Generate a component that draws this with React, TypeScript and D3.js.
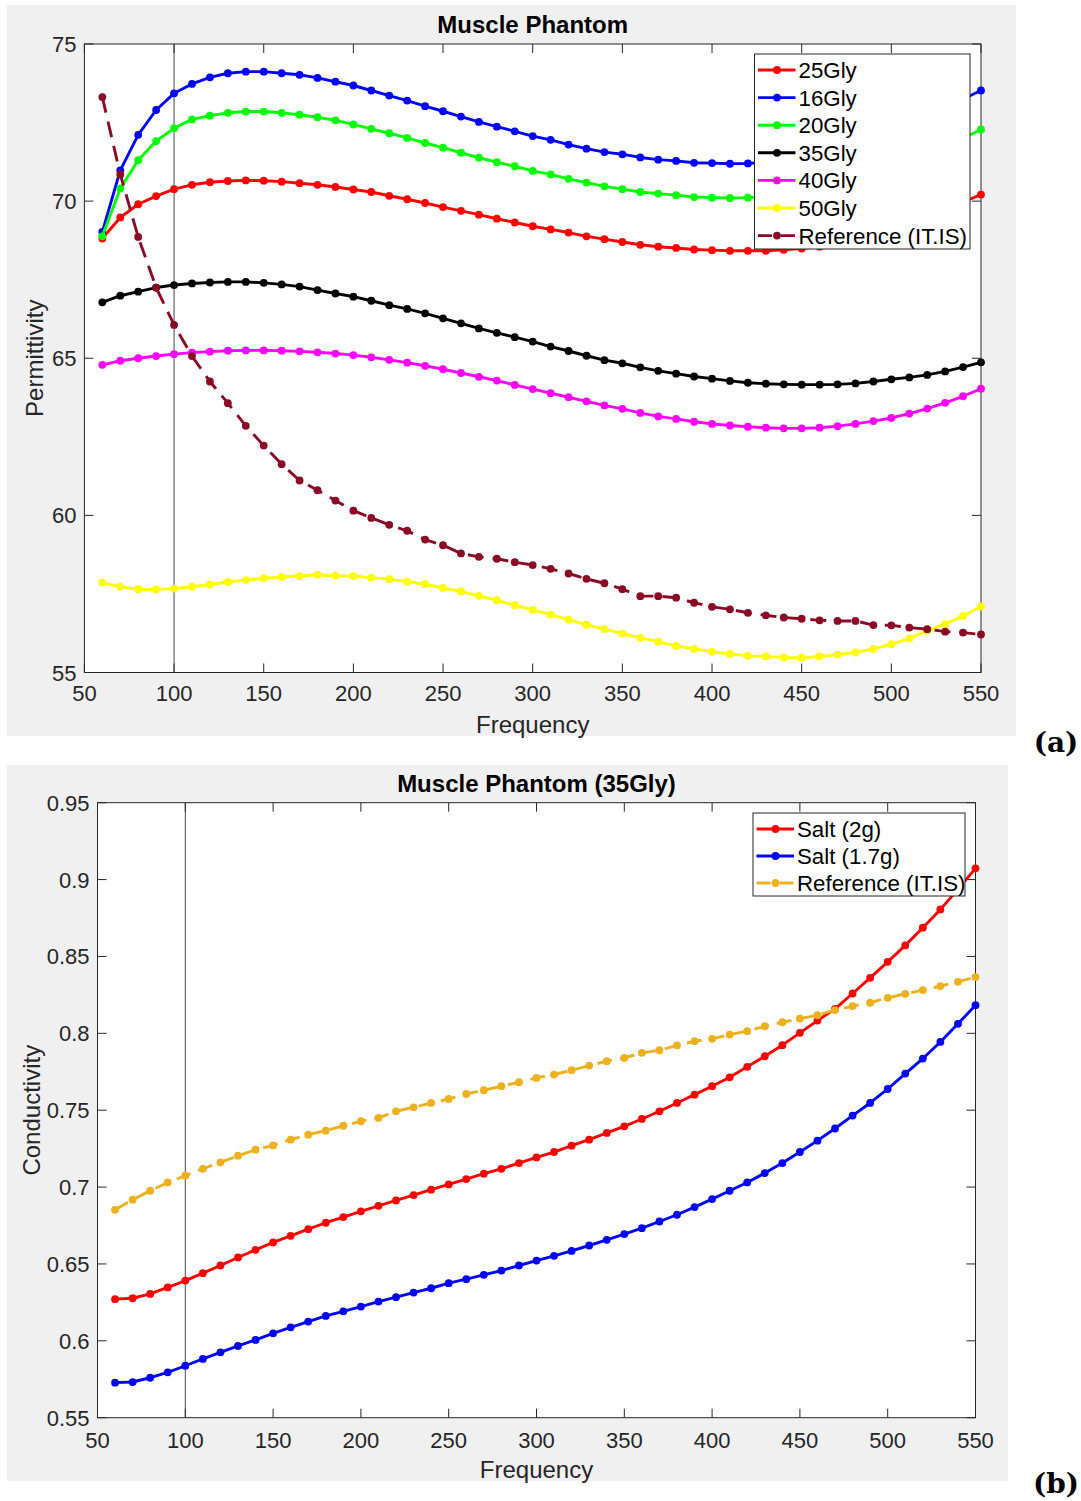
import React from "react";
import * as d3 from "d3";

// ---------- DATA ----------
const FREQ = [60, 70, 80, 90, 100, 110, 120, 130, 140, 150, 160, 170, 180, 190, 200, 210, 220, 230, 240, 250, 260, 270, 280, 290, 300, 310, 320, 330, 340, 350, 360, 370, 380, 390, 400, 410, 420, 430, 440, 450, 460, 470, 480, 490, 500, 510, 520, 530, 540, 550];

const PERM_25GLY = [68.81, 69.48, 69.90, 70.16, 70.38, 70.52, 70.60, 70.64, 70.66, 70.65, 70.62, 70.57, 70.52, 70.45, 70.37, 70.29, 70.17, 70.06, 69.94, 69.81, 69.69, 69.57, 69.44, 69.32, 69.20, 69.10, 69.00, 68.88, 68.79, 68.70, 68.61, 68.55, 68.51, 68.46, 68.44, 68.42, 68.42, 68.42, 68.45, 68.49, 68.55, 68.64, 68.76, 68.90, 69.07, 69.26, 69.48, 69.72, 69.97, 70.21];
const PERM_16GLY = [69.02, 70.98, 72.11, 72.90, 73.43, 73.73, 73.94, 74.07, 74.12, 74.12, 74.07, 74.02, 73.92, 73.80, 73.68, 73.52, 73.36, 73.20, 73.02, 72.86, 72.69, 72.52, 72.37, 72.22, 72.07, 71.95, 71.80, 71.67, 71.56, 71.49, 71.39, 71.32, 71.28, 71.22, 71.21, 71.19, 71.20, 71.23, 71.30, 71.40, 71.53, 71.68, 71.86, 72.05, 72.25, 72.47, 72.71, 72.97, 73.25, 73.52];
const PERM_20GLY = [68.88, 70.40, 71.30, 71.91, 72.32, 72.60, 72.72, 72.81, 72.85, 72.85, 72.81, 72.75, 72.67, 72.57, 72.44, 72.30, 72.16, 72.01, 71.85, 71.70, 71.54, 71.38, 71.24, 71.11, 70.96, 70.85, 70.71, 70.59, 70.47, 70.38, 70.29, 70.24, 70.19, 70.13, 70.11, 70.10, 70.11, 70.14, 70.20, 70.30, 70.41, 70.55, 70.70, 70.88, 71.07, 71.28, 71.50, 71.74, 72.00, 72.28];
const PERM_35GLY = [66.78, 66.99, 67.12, 67.25, 67.33, 67.38, 67.41, 67.43, 67.43, 67.40, 67.35, 67.28, 67.17, 67.06, 66.96, 66.83, 66.69, 66.57, 66.43, 66.27, 66.11, 65.95, 65.81, 65.67, 65.53, 65.37, 65.23, 65.08, 64.94, 64.84, 64.71, 64.60, 64.51, 64.42, 64.35, 64.28, 64.22, 64.19, 64.17, 64.16, 64.16, 64.17, 64.20, 64.26, 64.33, 64.39, 64.47, 64.58, 64.72, 64.87];
const PERM_40GLY = [64.79, 64.92, 65.00, 65.07, 65.13, 65.18, 65.21, 65.24, 65.25, 65.25, 65.24, 65.22, 65.19, 65.15, 65.10, 65.03, 64.95, 64.86, 64.76, 64.65, 64.53, 64.41, 64.29, 64.15, 64.02, 63.89, 63.76, 63.63, 63.50, 63.39, 63.26, 63.15, 63.07, 62.98, 62.91, 62.86, 62.82, 62.79, 62.77, 62.77, 62.79, 62.84, 62.91, 63.00, 63.10, 63.24, 63.40, 63.58, 63.79, 64.03];
const PERM_50GLY = [57.86, 57.73, 57.65, 57.64, 57.67, 57.73, 57.80, 57.88, 57.94, 58.00, 58.04, 58.07, 58.11, 58.08, 58.07, 58.02, 57.97, 57.89, 57.81, 57.69, 57.58, 57.44, 57.30, 57.14, 56.99, 56.84, 56.68, 56.52, 56.38, 56.24, 56.10, 55.98, 55.85, 55.75, 55.66, 55.59, 55.53, 55.51, 55.48, 55.47, 55.51, 55.57, 55.64, 55.75, 55.90, 56.08, 56.33, 56.54, 56.80, 57.10];
const PERM_REF = [73.31, 70.85, 68.86, 67.25, 66.06, 65.07, 64.26, 63.57, 62.85, 62.22, 61.63, 61.11, 60.80, 60.47, 60.15, 59.92, 59.70, 59.51, 59.23, 59.05, 58.79, 58.68, 58.62, 58.51, 58.42, 58.30, 58.15, 57.98, 57.84, 57.65, 57.43, 57.43, 57.38, 57.22, 57.09, 57.01, 56.90, 56.82, 56.75, 56.71, 56.66, 56.64, 56.64, 56.51, 56.50, 56.43, 56.38, 56.30, 56.27, 56.21];

const COND_SALT_2G = [0.6271, 0.6277, 0.6305, 0.6347, 0.6392, 0.6440, 0.6490, 0.6542, 0.6592, 0.6640, 0.6683, 0.6726, 0.6768, 0.6805, 0.6842, 0.6878, 0.6913, 0.6948, 0.6983, 0.7017, 0.7052, 0.7087, 0.7119, 0.7156, 0.7193, 0.7228, 0.7269, 0.7308, 0.7352, 0.7395, 0.7443, 0.7493, 0.7547, 0.7601, 0.7656, 0.7714, 0.7782, 0.7851, 0.7923, 0.8003, 0.8083, 0.8159, 0.8259, 0.8361, 0.8465, 0.8572, 0.8687, 0.8806, 0.8936, 0.9073];
const COND_SALT_17G = [0.5728, 0.5732, 0.5760, 0.5795, 0.5838, 0.5882, 0.5925, 0.5967, 0.6006, 0.6049, 0.6088, 0.6125, 0.6162, 0.6192, 0.6223, 0.6255, 0.6284, 0.6314, 0.6342, 0.6375, 0.6401, 0.6429, 0.6457, 0.6490, 0.6522, 0.6553, 0.6585, 0.6620, 0.6657, 0.6694, 0.6733, 0.6776, 0.6820, 0.6870, 0.6922, 0.6976, 0.7030, 0.7091, 0.7156, 0.7228, 0.7302, 0.7381, 0.7465, 0.7547, 0.7638, 0.7738, 0.7836, 0.7944, 0.8062, 0.8183];
const COND_REF = [0.6852, 0.6918, 0.6976, 0.7030, 0.7074, 0.7119, 0.7161, 0.7204, 0.7243, 0.7271, 0.7308, 0.7341, 0.7367, 0.7399, 0.7428, 0.7450, 0.7493, 0.7519, 0.7547, 0.7573, 0.7606, 0.7630, 0.7656, 0.7682, 0.7710, 0.7732, 0.7760, 0.7790, 0.7819, 0.7840, 0.7873, 0.7890, 0.7921, 0.7949, 0.7964, 0.7992, 0.8014, 0.8046, 0.8072, 0.8096, 0.8118, 0.8151, 0.8177, 0.8199, 0.8231, 0.8257, 0.8281, 0.8307, 0.8335, 0.8366];

const X_TICKS = [50, 100, 150, 200, 250, 300, 350, 400, 450, 500, 550];
const X_TICK_LABELS = ["50", "100", "150", "200", "250", "300", "350", "400", "450", "500", "550"];
const PERM_TICKS = [55, 60, 65, 70, 75];
const PERM_TICK_LABELS = ["55", "60", "65", "70", "75"];
const COND_TICKS = [0.55, 0.6, 0.65, 0.7, 0.75, 0.8, 0.85, 0.9, 0.95];
const COND_TICK_LABELS = ["0.55", "0.6", "0.65", "0.7", "0.75", "0.8", "0.85", "0.9", "0.95"];

const TOP_NAMES = ["25Gly", "16Gly", "20Gly", "35Gly", "40Gly", "50Gly", "Reference (IT.IS)"];
const BOT_NAMES = ["Salt (2g)", "Salt (1.7g)", "Reference (IT.IS)"];

// ---------- STYLE ----------
const FONT = "'Liberation Sans', Arial, Helvetica, sans-serif";
const AX = "#262626";
const TICK_FS = 22;
const LABEL_FS = 24;
const LEGEND_FS = 22.3;
const LW = 2.9;
const MR = 3.9;

type Series = { name: string; values: number[]; color: string; dash?: string };

type PanelCfg = {
  bg: [number, number, number, number];
  x0: number; x1: number; yTop: number; yBot: number;
  yDomain: [number, number];
  yTicks: number[]; yTickLabels: string[];
  title: string; titleY: number;
  yLabel: string; yLabelX: number;
  xLabelY: number; xTickY: number;
  series: Series[];
  legend: { x0: number; x1: number; y0: number; y1: number; first: number; step: number };
  dashLegend: string;
};

function Panel({ cfg }: { cfg: PanelCfg }) {
  const x = d3.scaleLinear().domain([50, 550]).range([cfg.x0, cfg.x1]);
  const y = d3.scaleLinear().domain(cfg.yDomain).range([cfg.yBot, cfg.yTop]);
  const line = d3.line<number>().x((_, i) => x(FREQ[i])).y((v) => y(v));
  const T = 9;
  const cx = (cfg.x0 + cfg.x1) / 2;
  const cy = (cfg.yTop + cfg.yBot) / 2;
  const L = cfg.legend;
  return (
    <g>
      <rect x={cfg.bg[0]} y={cfg.bg[1]} width={cfg.bg[2]} height={cfg.bg[3]} fill="#f0f0f0" />
      <rect x={cfg.x0} y={cfg.yTop} width={cfg.x1 - cfg.x0} height={cfg.yBot - cfg.yTop} fill="#ffffff" />
      {X_TICKS.map((t, i) => (
        <g key={"xt" + i}>
          <line x1={x(t)} x2={x(t)} y1={cfg.yBot} y2={cfg.yBot - T} stroke={AX} strokeWidth={1} />
          <line x1={x(t)} x2={x(t)} y1={cfg.yTop} y2={cfg.yTop + T} stroke={AX} strokeWidth={1} />
          <text x={x(t)} y={cfg.xTickY} textAnchor="middle" fontFamily={FONT} fontSize={TICK_FS} fill={AX}>{X_TICK_LABELS[i]}</text>
        </g>
      ))}
      {cfg.yTicks.map((t, i) => (
        <g key={"yt" + i}>
          <line x1={cfg.x0} x2={cfg.x0 + T} y1={y(t)} y2={y(t)} stroke={AX} strokeWidth={1} />
          <line x1={cfg.x1} x2={cfg.x1 - T} y1={y(t)} y2={y(t)} stroke={AX} strokeWidth={1} />
          <text x={cfg.x0 - 8} y={y(t) + 8} textAnchor="end" fontFamily={FONT} fontSize={TICK_FS} fill={AX}>{cfg.yTickLabels[i]}</text>
        </g>
      ))}
      <rect x={cfg.x0} y={cfg.yTop} width={cfg.x1 - cfg.x0} height={cfg.yBot - cfg.yTop} fill="none" stroke={AX} strokeWidth={1} />
      <line x1={x(100)} x2={x(100)} y1={cfg.yTop} y2={cfg.yBot} stroke="#333" strokeWidth={0.9} />
      {cfg.series.map((s, si) => (
        <g key={"s" + si}>
          <path d={line(s.values) || ""} fill="none" stroke={s.color} strokeWidth={LW} strokeDasharray={s.dash} strokeLinejoin="round" />
          {s.values.map((v, i) => (
            <circle key={i} cx={x(FREQ[i])} cy={y(v)} r={MR} fill={s.color} />
          ))}
        </g>
      ))}
      <text x={cx} y={cfg.titleY} textAnchor="middle" fontFamily={FONT} fontWeight="bold" fontSize={LABEL_FS} fill="#000">{cfg.title}</text>
      <text x={cx} y={cfg.xLabelY} textAnchor="middle" fontFamily={FONT} fontSize={LABEL_FS} fill={AX}>Frequency</text>
      <text transform={`translate(${cfg.yLabelX},${cy}) rotate(-90)`} textAnchor="middle" fontFamily={FONT} fontSize={LABEL_FS} fill={AX}>{cfg.yLabel}</text>
      <rect x={L.x0} y={L.y0} width={L.x1 - L.x0} height={L.y1 - L.y0} fill="#fff" stroke="#262626" strokeWidth={1} />
      {cfg.series.map((s, i) => {
        const yy = L.first + i * L.step;
        return (
          <g key={"lg" + i}>
            <line x1={L.x0 + 3.5} x2={L.x0 + 41} y1={yy} y2={yy} stroke={s.color} strokeWidth={LW} strokeDasharray={s.dash ? cfg.dashLegend : undefined} />
            <circle cx={L.x0 + 22.5} cy={yy} r={MR} fill={s.color} />
            <text x={L.x0 + 44} y={yy + 8} fontFamily={FONT} fontSize={LEGEND_FS} fill="#000">{s.name}</text>
          </g>
        );
      })}
    </g>
  );
}

export default function App() {
  const topSeries: Series[] = [
    { name: TOP_NAMES[0], values: PERM_25GLY, color: "#ff0000" },
    { name: TOP_NAMES[1], values: PERM_16GLY, color: "#0000ff" },
    { name: TOP_NAMES[2], values: PERM_20GLY, color: "#00ff00" },
    { name: TOP_NAMES[3], values: PERM_35GLY, color: "#000000" },
    { name: TOP_NAMES[4], values: PERM_40GLY, color: "#ff00ff" },
    { name: TOP_NAMES[5], values: PERM_50GLY, color: "#ffff00" },
    { name: TOP_NAMES[6], values: PERM_REF, color: "#8b0a26", dash: "16,9" },
  ];
  const botSeries: Series[] = [
    { name: BOT_NAMES[0], values: COND_SALT_2G, color: "#ff0000" },
    { name: BOT_NAMES[1], values: COND_SALT_17G, color: "#0000ff" },
    { name: BOT_NAMES[2], values: COND_REF, color: "#edb120", dash: "15,8" },
  ];
  const top: PanelCfg = {
    bg: [7, 5, 1009, 731],
    x0: 84.4, x1: 981, yTop: 44, yBot: 672.5,
    yDomain: [55, 75], yTicks: PERM_TICKS, yTickLabels: PERM_TICK_LABELS,
    title: "Muscle Phantom", titleY: 33,
    yLabel: "Permittivity", yLabelX: 43,
    xLabelY: 733, xTickY: 701,
    series: topSeries,
    legend: { x0: 754.5, x1: 970, y0: 54, y1: 249, first: 70, step: 27.6 },
    dashLegend: "14,9",
  };
  const bot: PanelCfg = {
    bg: [7, 765, 1001, 716],
    x0: 97.5, x1: 975.5, yTop: 802.7, yBot: 1417.7,
    yDomain: [0.55, 0.95], yTicks: COND_TICKS, yTickLabels: COND_TICK_LABELS,
    title: "Muscle Phantom (35Gly)", titleY: 792,
    yLabel: "Conductivity", yLabelX: 40,
    xLabelY: 1478, xTickY: 1448,
    series: botSeries,
    legend: { x0: 753, x1: 965, y0: 813, y1: 896, first: 829, step: 27 },
    dashLegend: "14,9",
  };
  return (
    <div style={{ position: "absolute", left: 0, top: 0, width: 1081, height: 1501, background: "#fff" }}>
      <svg width={1081} height={1501} viewBox="0 0 1081 1501" style={{ display: "block" }}>
        <rect x={0} y={0} width={1081} height={1501} fill="#ffffff" />
        <Panel cfg={top} />
        <Panel cfg={bot} />
        <text x={1056} y={752} textAnchor="middle" fontFamily="'DejaVu Serif', 'Liberation Serif', serif" fontWeight="bold" fontSize={28} fill="#000">(a)</text>
        <text x={1056} y={1493} textAnchor="middle" fontFamily="'DejaVu Serif', 'Liberation Serif', serif" fontWeight="bold" fontSize={28} fill="#000">(b)</text>
      </svg>
    </div>
  );
}
